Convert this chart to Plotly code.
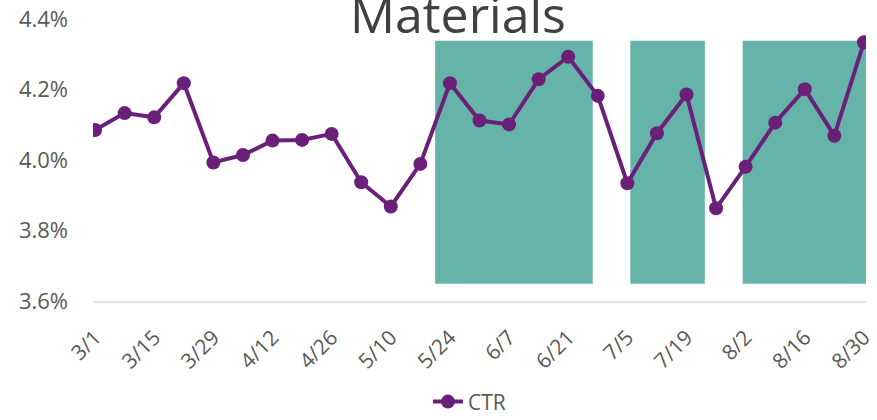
import plotly.graph_objects as go

weeks = ["3/1", "3/8", "3/15", "3/22", "3/29", "4/5", "4/12", "4/19", "4/26",
         "5/3", "5/10", "5/17", "5/24", "5/31", "6/7", "6/14", "6/21", "6/28",
         "7/5", "7/12", "7/19", "7/26", "8/2", "8/9", "8/16", "8/23", "8/30"]
ctr = [4.085, 4.133, 4.121, 4.218, 3.993, 4.014, 4.055, 4.057, 4.074,
       3.937, 3.868, 3.989, 4.218, 4.112, 4.101, 4.229, 4.293, 4.182,
       3.934, 4.076, 4.186, 3.863, 3.981, 4.106, 4.201, 4.069, 4.334]
tick_labels = weeks[::2]

# highlighted periods (category-index positions) and their value extent
period_start = [11.5, 18.1, 21.9]
period_end = [16.83, 20.62, 26.17]
period_low = 3.649
period_high = 4.338

PURPLE = "#6a2078"
TEAL = "#66b4a9"
FONT = "Open Sans"

fig = go.Figure()
fig.add_trace(go.Scatter(
    x=weeks, y=ctr, name="CTR", mode="lines+markers",
    line=dict(color=PURPLE, width=4),
    marker=dict(color=PURPLE, size=14),
))

for s, e in zip(period_start, period_end):
    fig.add_shape(type="rect", xref="x", yref="y", x0=s, x1=e,
                  y0=period_low, y1=period_high,
                  fillcolor=TEAL, line=dict(width=0), layer="below")

fig.update_layout(
    width=877, height=420,
    margin=dict(l=93, r=11, t=19, b=119),
    paper_bgcolor="white", plot_bgcolor="white",
    font=dict(family=FONT, color="#595959", size=20),
    showlegend=True,
    legend=dict(orientation="h", x=0.487, xanchor="center",
                yref="container", y=0.043, yanchor="middle",
                font=dict(size=21, color="#595959")),
    xaxis=dict(
        type="category", range=[-0.07, 26.07], automargin=False,
        tickmode="array", tickvals=tick_labels, ticktext=tick_labels,
        tickangle=-45, showgrid=False, zeroline=False,
        showline=True, linecolor="#e3e3e3", linewidth=2,
        tickfont=dict(size=21, color="#595959"), ticks="", ticklabelstandoff=14,
    ),
    yaxis=dict(
        range=[3.6, 4.4], dtick=0.2, tickformat=".1f", ticksuffix="%",
        showgrid=False, zeroline=False, showline=False, automargin=False,
        tickfont=dict(size=22, color="#595959"), ticks="", ticklabelstandoff=24,
    ),
    annotations=[dict(text="Materials", xref="paper", yref="paper",
                      x=0.472, y=1.0, xanchor="center", yanchor="middle",
                      yshift=5, showarrow=False,
                      font=dict(size=50, color="#404040", family=FONT))],
)

fig.write_html("out.html")
